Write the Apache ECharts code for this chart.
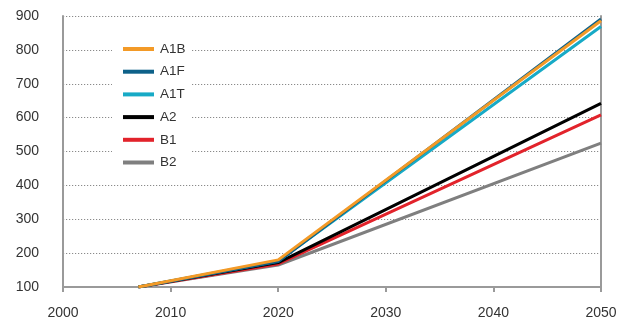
<!DOCTYPE html>
<html>
<head>
<meta charset="utf-8">
<script src="https://cdn.jsdelivr.net/npm/echarts@6/dist/echarts.min.js"></script>
<style>
  html, body { margin: 0; padding: 0; background: #fff; }
  #chart { width: 628px; height: 320px; }
</style>
</head>
<body>
<div id="chart"></div>
<script>
// Scenario trajectories, sampled at these years
const years = [2007, 2020, 2050];
const scenarioNames = ['A1B', 'A1F', 'A1T', 'A2', 'B1', 'B2'];
const A1B = [100, 180, 886];
const A1F = [100, 175, 891];
const A1T = [100, 177, 869];
const A2  = [100, 172, 642];
const B1  = [100, 168, 608];
const B2  = [100, 165, 525];
const yTicks = [100, 200, 300, 400, 500, 600, 700, 800, 900];
const xTicks = [2000, 2010, 2020, 2030, 2040, 2050];

const colors = {
  A1B: '#F39A27', A1F: '#0E6189', A1T: '#17AAC6',
  A2: '#000000', B1: '#E2232B', B2: '#7F7F7F'
};
const valuesByName = { A1B, A1F, A1T, A2, B1, B2 };

// paint order: orange last so it sits on top
const drawOrder = ['B2', 'B1', 'A2', 'A1T', 'A1F', 'A1B'];

const font = 'Liberation Sans, Arial, sans-serif';
const axisGray = '#9a9a9a';

const chart = echarts.init(document.getElementById('chart'));
chart.setOption({
  animation: false,
  textStyle: { fontFamily: font },
  grid: { left: 63, right: 27, top: 16, bottom: 33 },
  legend: {
    orient: 'vertical',
    left: 112, top: 38,
    padding: [4, 6, 4, 11],
    backgroundColor: '#fff',
    data: scenarioNames.map(n => ({ name: n, icon: 'rect' })),
    itemWidth: 31, itemHeight: 4,
    itemGap: 8.7,
    textStyle: { fontSize: 13.5, color: '#333', lineHeight: 14, padding: [0, 0, 0, 1] }
  },
  xAxis: {
    type: 'value',
    min: xTicks[0], max: xTicks[xTicks.length - 1], interval: 10,
    axisLine: { show: true, onZero: false, lineStyle: { color: axisGray, width: 2 } },
    axisTick: { show: true, length: 5, lineStyle: { color: axisGray, width: 2 } },
    axisLabel: { fontSize: 14, color: '#333', margin: 19, formatter: v => String(v) },
    splitLine: { show: false }
  },
  yAxis: [{
    type: 'value',
    min: yTicks[0], max: yTicks[yTicks.length - 1], interval: 100,
    axisLine: { show: true, lineStyle: { color: axisGray, width: 2 } },
    axisTick: { show: false },
    axisLabel: { fontSize: 14, color: '#333', margin: 24, formatter: v => String(v) },
    splitLine: { show: true, lineStyle: { color: '#8a8a8a', width: 1.2, type: [1.2, 1.8] } }
  }, {
    type: 'value', position: 'right',
    min: yTicks[0], max: yTicks[yTicks.length - 1], interval: 100,
    axisLine: { show: true, lineStyle: { color: axisGray, width: 2 } },
    axisTick: { show: false }, axisLabel: { show: false }, splitLine: { show: false }
  }],
  series: drawOrder.map(n => ({
    name: n,
    type: 'line',
    symbol: 'none',
    color: colors[n],
    lineStyle: { width: 3, color: colors[n] },
    data: years.map((y, i) => [y, valuesByName[n][i]])
  }))
});
</script>
</body>
</html>
